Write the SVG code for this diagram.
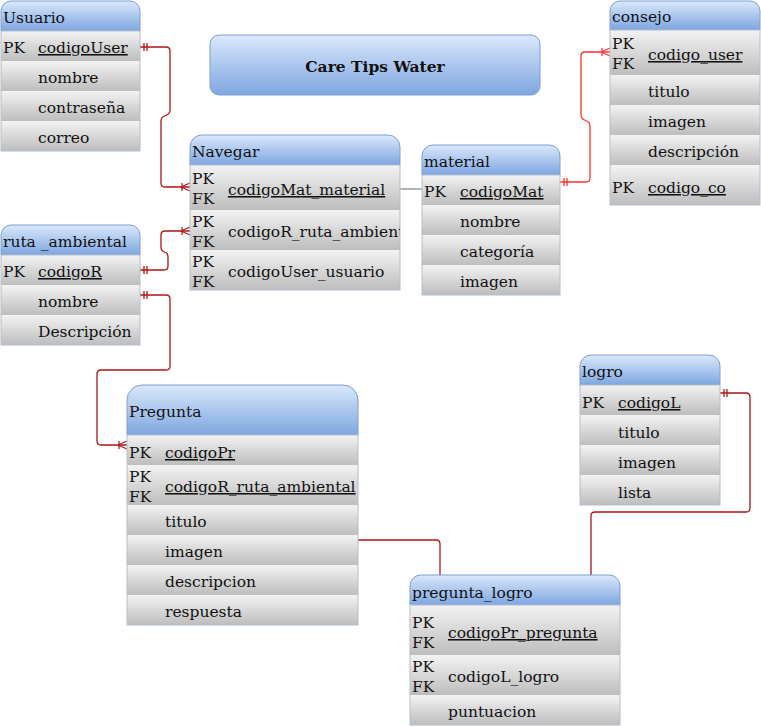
<svg xmlns="http://www.w3.org/2000/svg" width="761" height="726" viewBox="0 0 761 726">
<style>
text{font-family:"DejaVu Serif","Liberation Serif",serif;font-size:15.5px;fill:#111}
.u{text-decoration:underline}
.t{font-weight:bold;font-size:15.5px}
.hd{fill:url(#gh);stroke:#7f9fcf;stroke-width:1}
.row{fill:url(#gr);stroke:none}
.ol{fill:none;stroke:#b4bfcf;stroke-width:1}
.c{fill:none;stroke:#b01515;stroke-width:1.3}
.c2{fill:none;stroke:#ff3030;stroke-width:1.3}
</style>
<defs>
<linearGradient id="gh" x1="0" y1="0" x2="0" y2="1"><stop offset="0" stop-color="#dae8fc"/><stop offset="1" stop-color="#7ea6e0"/></linearGradient>
<linearGradient id="gr" x1="0" y1="0" x2="0" y2="1"><stop offset="0" stop-color="#f3f3f3"/><stop offset="1" stop-color="#bdbdbd"/></linearGradient>
<marker id="one" markerUnits="userSpaceOnUse" markerWidth="12" markerHeight="12" refX="0" refY="6" orient="auto" overflow="visible"><path d="M4 2V10M7 2V10" stroke="#b01515" stroke-width="1.3" fill="none"/></marker>
<marker id="many" markerUnits="userSpaceOnUse" markerWidth="12" markerHeight="12" refX="10" refY="6" orient="auto" overflow="visible"><path d="M2 2V10M1 6L10 2M1 6L10 10" stroke="#b01515" stroke-width="1.2" fill="none"/></marker>
<marker id="one2" markerUnits="userSpaceOnUse" markerWidth="12" markerHeight="12" refX="0" refY="6" orient="auto" overflow="visible"><path d="M4 2V10M7 2V10" stroke="#ff3030" stroke-width="1.3" fill="none"/></marker>
<marker id="many2" markerUnits="userSpaceOnUse" markerWidth="12" markerHeight="12" refX="10" refY="6" orient="auto" overflow="visible"><path d="M2 2V10M1 6L10 2M1 6L10 10" stroke="#ff3030" stroke-width="1.2" fill="none"/></marker>
<clipPath id="navclip"><rect x="190" y="210" width="210" height="40"/></clipPath>
</defs>

<g id="connectors">
<path class="c" d="M140 47H166Q170 47 170 51V110Q170 114 165.5 115.5Q161 117 161 121V183Q161 187 165 187H190" marker-start="url(#one)" marker-end="url(#many)"/>
<path class="c2" d="M560 182H586Q590 182 590 178V126Q590 122 585.5 120.5Q581 119 581 115V56Q581 52 585 52H610" marker-start="url(#one2)" marker-end="url(#many2)"/>
<path class="c" d="M140 270H164Q168 270 168 266V257Q168 253 164.5 252Q161 251 161 247V235Q161 231 165 231H190" marker-start="url(#one)" marker-end="url(#many)"/>
<path class="c" d="M140 295H166Q170 295 170 299V366Q170 370 166 370H101Q97 370 97 374V441Q97 445 101 445H127" marker-start="url(#one)" marker-end="url(#many)"/>
<path class="c" d="M358 540H436Q440 540 440 544V575"/>
<path class="c" d="M720 393H746Q750 393 750 397V508Q750 512 746 512H595Q591 512 591 516V575" marker-start="url(#one)"/>
<path d="M400 189H422" fill="none" stroke="#8c8c8c" stroke-width="1.3"/>
</g>

<g id="title">
<rect x="210" y="35" width="330" height="60" rx="9" class="hd"/>
<text x="375" y="72" text-anchor="middle" class="t">Care Tips Water</text>
</g>

<g id="usuario">
<path class="hd" d="M1 31V11A10 10 0 0 1 11 1H130A10 10 0 0 1 140 11V31Z"/>
<rect class="row" x="1" y="31" width="139" height="30"/>
<rect class="row" x="1" y="61" width="139" height="30"/>
<rect class="row" x="1" y="91" width="139" height="30"/>
<rect class="row" x="1" y="121" width="139" height="30"/>
<rect class="ol" x="1" y="31" width="139" height="120"/>
<text x="3" y="23">Usuario</text>
<text x="3" y="53">PK</text><text x="38" y="53" class="u">codigoUser</text>
<text x="38" y="83">nombre</text>
<text x="38" y="113">contraseña</text>
<text x="38" y="143">correo</text>
</g>

<g id="navegar">
<path class="hd" d="M190 165V147A12 12 0 0 1 202 135H388A12 12 0 0 1 400 147V165Z"/>
<rect class="row" x="190" y="165" width="210" height="45"/>
<rect class="row" x="190" y="210" width="210" height="40"/>
<rect class="row" x="190" y="250" width="210" height="40"/>
<rect class="ol" x="190" y="165" width="210" height="125"/>
<text x="192" y="157">Navegar</text>
<text x="192" y="184">PK</text><text x="192" y="204">FK</text><text x="228" y="195" class="u">codigoMat_material</text>
<text x="192" y="227">PK</text><text x="192" y="247">FK</text><text x="228" y="237" clip-path="url(#navclip)">codigoR_ruta_ambient</text>
<text x="192" y="267">PK</text><text x="192" y="287">FK</text><text x="228" y="277">codigoUser_usuario</text>
</g>

<g id="material">
<path class="hd" d="M422 175V156A11 11 0 0 1 433 145H549A11 11 0 0 1 560 156V175Z"/>
<rect class="row" x="422" y="175" width="138" height="30"/>
<rect class="row" x="422" y="205" width="138" height="30"/>
<rect class="row" x="422" y="235" width="138" height="30"/>
<rect class="row" x="422" y="265" width="138" height="30"/>
<rect class="ol" x="422" y="175" width="138" height="120"/>
<text x="424" y="167">material</text>
<text x="424" y="197">PK</text><text x="460" y="197" class="u">codigoMat</text>
<text x="460" y="227">nombre</text>
<text x="460" y="257">categoría</text>
<text x="460" y="287">imagen</text>
</g>

<g id="consejo">
<path class="hd" d="M610 30V11A10 10 0 0 1 620 1H750A10 10 0 0 1 760 11V30Z"/>
<rect class="row" x="610" y="30" width="150" height="45"/>
<rect class="row" x="610" y="75" width="150" height="30"/>
<rect class="row" x="610" y="105" width="150" height="30"/>
<rect class="row" x="610" y="135" width="150" height="30"/>
<rect class="row" x="610" y="165" width="150" height="40"/>
<rect class="ol" x="610" y="30" width="150" height="175"/>
<text x="612" y="22">consejo</text>
<text x="612" y="49">PK</text><text x="612" y="69">FK</text><text x="648" y="60" class="u">codigo_user</text>
<text x="648" y="97">titulo</text>
<text x="648" y="127">imagen</text>
<text x="648" y="157">descripción</text>
<text x="612" y="193">PK</text><text x="648" y="193" class="u">codigo_co</text>
</g>

<g id="ruta_ambiental">
<path class="hd" d="M1 255V235A10 10 0 0 1 11 225H130A10 10 0 0 1 140 235V255Z"/>
<rect class="row" x="1" y="255" width="139" height="30"/>
<rect class="row" x="1" y="285" width="139" height="30"/>
<rect class="row" x="1" y="315" width="139" height="30"/>
<rect class="ol" x="1" y="255" width="139" height="90"/>
<text x="3" y="247">ruta _ambiental</text>
<text x="3" y="277">PK</text><text x="38" y="277" class="u">codigoR</text>
<text x="38" y="307">nombre</text>
<text x="38" y="337">Descripción</text>
</g>

<g id="pregunta">
<path class="hd" d="M127 435V400A15 15 0 0 1 142 385H343A15 15 0 0 1 358 400V435Z"/>
<rect class="row" x="127" y="435" width="231" height="30"/>
<rect class="row" x="127" y="465" width="231" height="40"/>
<rect class="row" x="127" y="505" width="231" height="30"/>
<rect class="row" x="127" y="535" width="231" height="30"/>
<rect class="row" x="127" y="565" width="231" height="30"/>
<rect class="row" x="127" y="595" width="231" height="30"/>
<rect class="ol" x="127" y="435" width="231" height="190"/>
<text x="129" y="417">Pregunta</text>
<text x="129" y="458">PK</text><text x="165" y="458" class="u">codigoPr</text>
<text x="129" y="482">PK</text><text x="129" y="502">FK</text><text x="165" y="492" class="u">codigoR_ruta_ambiental</text>
<text x="165" y="527">titulo</text>
<text x="165" y="557">imagen</text>
<text x="165" y="587">descripcion</text>
<text x="165" y="617">respuesta</text>
</g>

<g id="logro">
<path class="hd" d="M580 385V366A11 11 0 0 1 591 355H709A11 11 0 0 1 720 366V385Z"/>
<rect class="row" x="580" y="385" width="140" height="30"/>
<rect class="row" x="580" y="415" width="140" height="30"/>
<rect class="row" x="580" y="445" width="140" height="30"/>
<rect class="row" x="580" y="475" width="140" height="30"/>
<rect class="ol" x="580" y="385" width="140" height="120"/>
<text x="582" y="377">logro</text>
<text x="582" y="408">PK</text><text x="618" y="408" class="u">codigoL</text>
<text x="618" y="438">titulo</text>
<text x="618" y="468">imagen</text>
<text x="618" y="498">lista</text>
</g>

<g id="pregunta_logro">
<path class="hd" d="M410 605V586A11 11 0 0 1 421 575H609A11 11 0 0 1 620 586V605Z"/>
<rect class="row" x="410" y="605" width="210" height="50"/>
<rect class="row" x="410" y="655" width="210" height="40"/>
<rect class="row" x="410" y="695" width="210" height="30"/>
<rect class="ol" x="410" y="605" width="210" height="120"/>
<text x="412" y="598">pregunta_logro</text>
<text x="412" y="628">PK</text><text x="412" y="648">FK</text><text x="448" y="638" class="u">codigoPr_pregunta</text>
<text x="412" y="672">PK</text><text x="412" y="692">FK</text><text x="448" y="682">codigoL_logro</text>
<text x="448" y="717">puntuacion</text>
</g>
</svg>
